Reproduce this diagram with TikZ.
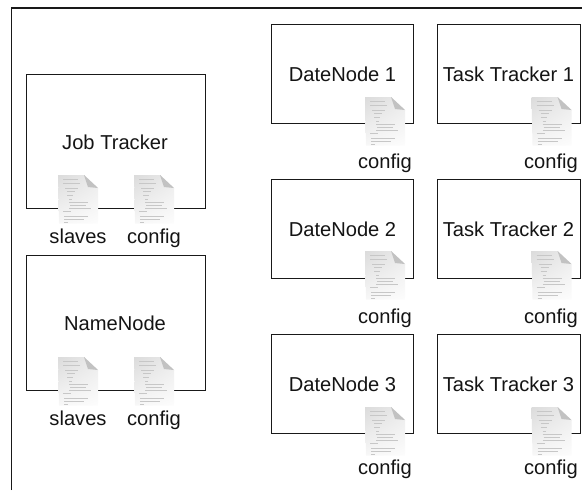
\documentclass[tikz,border=0pt]{standalone}
\usepackage{fontspec}
\setmainfont{Liberation Sans}
\usetikzlibrary{shadings}
\definecolor{frameink}{gray}{0.1}
\definecolor{docfold}{gray}{0.76}
\definecolor{docink}{gray}{0.78}
\tikzset{
  x=0.75pt,y=-0.75pt,
  boxnode/.style={draw=frameink,line width=1.05pt,fill=white,anchor=north west,inner sep=0pt,align=center},
  lab/.style={font=\fontsize{15.1}{18}\selectfont,text=black!92,inner sep=0pt,anchor=base},
  docicon/.pic={
    \shade[upper left=black!14,upper right=black!8,lower left=black!3,lower right=black!1] (0,0) -- (26,0) -- (40,13) -- (40,48.5) -- (1,48.5) -- cycle;
    \fill[docfold] (26,0) -- (40,13) -- (30,12) -- cycle;
    \foreach \yy/\xa/\xb in {4/5/20,8/5/22,13/7/20,16/9/17,20/9/15,24/11/14,27/11/30,30/12/28,33/11/33,36/5/13,41/6/30,44/6/26,47/6/10}
      \draw[docink,line width=0.45pt] (\xa,\yy) -- (\xb,\yy);
  }
}
\begin{document}
\begin{tikzpicture}
\useasboundingbox (0,0) rectangle (582,490);
\coordinate (outerA) at (11.7,490);
\coordinate (outerB) at (11.7,8);
\coordinate (outerC) at (582,8);
\draw[frameink,line width=1.05pt] (outerA) -- (outerB) -- (outerC);
\node[boxnode,minimum width=134.25pt,minimum height=100.5pt] (jt) at (26,74) {};
\node[boxnode,minimum width=134.25pt,minimum height=101.25pt] (nn) at (26,255) {};
\foreach \n/\yy/\ic/\cb in {1/24/97/168,2/179/251/323,3/334/407/474}{
  \node[boxnode,minimum width=106.5pt,minimum height=74.25pt] (dn\n) at (271,\yy) {};
  \node[boxnode,minimum width=107.25pt,minimum height=74.25pt] (tt\n) at (437,\yy) {};
  \pic at (365,\ic) {docicon};
  \pic at (531.5,\ic) {docicon};
  \node[lab] (dnl\n) at (342.5,\yy+57) {DateNode \n};
  \node[lab] (ttl\n) at (508.5,\yy+57) {Task Tracker \n};
  \node[lab] (dnc\n) at (385,\cb) {config};
  \node[lab] (ttc\n) at (551,\cb) {config};
}
\pic at (58,175) {docicon};
\pic at (134,175) {docicon};
\pic at (58,357) {docicon};
\pic at (134,357) {docicon};
\node[lab] (jtl) at (115,149) {Job Tracker};
\node[lab] (nnl) at (115,330) {NameNode};
\node[lab] (jts) at (78,243) {slaves};
\node[lab] (jtc) at (154,243) {config};
\node[lab] (nns) at (78,425) {slaves};
\node[lab] (nnc) at (154,425) {config};
\end{tikzpicture}
\end{document}
